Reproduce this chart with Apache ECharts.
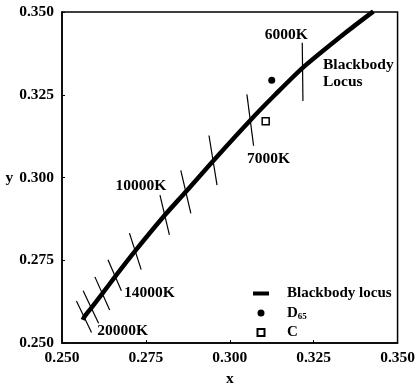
<!DOCTYPE html>
<html><head><meta charset="utf-8">
<script src="https://cdn.jsdelivr.net/npm/echarts@6/dist/echarts.min.js"></script>
<style>html,body{margin:0;padding:0;background:#fff}#c{width:418px;height:392px}</style>
</head><body><div id="c"></div>
<script>
// ---- data ----
const xTicks = [0.250, 0.275, 0.300, 0.325, 0.350];
const yTicks = [0.250, 0.275, 0.300, 0.325, 0.350];

const locusX = [0.2562, 0.2567, 0.2587, 0.2619, 0.2660, 0.2717, 0.2806, 0.2869, 0.2951, 0.3062, 0.3135, 0.3218, 0.3352, 0.3428];
const locusY = [0.2570, 0.2580, 0.2606, 0.2648, 0.2703, 0.2777, 0.2886, 0.2957, 0.3051, 0.3174, 0.3250, 0.3332, 0.3443, 0.3502];

const isoNames = ['20000K', '18000K', '16000K', '14000K', '12000K', '10000K', '9000K', '8000K', '7000K', '6000K'];
const isoX1 = [0.2543, 0.2563, 0.2598, 0.2637, 0.2701, 0.2792, 0.2854, 0.2938, 0.3051, 0.3216];
const isoY1 = [0.2627, 0.2658, 0.2700, 0.2752, 0.2832, 0.2947, 0.3022, 0.3127, 0.3251, 0.3407];
const isoX2 = [0.2588, 0.2609, 0.2642, 0.2677, 0.2736, 0.2820, 0.2884, 0.2962, 0.3071, 0.3218];
const isoY2 = [0.2532, 0.2560, 0.2600, 0.2658, 0.2722, 0.2827, 0.2892, 0.2977, 0.3096, 0.3231];

const d65X = [0.3125], d65Y = [0.3294];
const cX = [0.3107], cY = [0.3170];

const tempLabels = ['6000K', '7000K', '10000K', '14000K', '20000K'];
const tempLabelX = [0.3216, 0.3071, 0.2792, 0.2677, 0.2588];
const tempLabelY = [0.3407, 0.3096, 0.2947, 0.2658, 0.2532];

const legendNames = ['Blackbody locus', 'D65', 'C'];

// ---- chart ----
const FONT = '"Liberation Serif", "Times New Roman", serif';
const labelOffsets = [[-16, -8], [15, 13], [-19, -9], [28, 2], [31, -2]];

const series = [];
series.push({
  name: legendNames[0], type: 'line', symbol: 'none', silent: true, smooth: 0.25,
  data: locusX.map((x, i) => [x, locusY[i]]),
  itemStyle: { color: '#000' },
  lineStyle: { color: '#000', width: 4.5 }, z: 3
});
isoNames.forEach((n, i) => {
  series.push({
    name: n, type: 'line', symbol: 'none', silent: true,
    data: [[isoX1[i], isoY1[i]], [isoX2[i], isoY2[i]]],
    lineStyle: { color: '#000', width: 1.2 }, z: 2
  });
});
series.push({
  name: legendNames[1], type: 'scatter', symbol: 'circle', symbolSize: 7,
  data: d65X.map((x, i) => [x, d65Y[i]]),
  itemStyle: { color: '#000', opacity: 1 }, z: 4
});
series.push({
  name: legendNames[2], type: 'scatter', symbol: 'rect', symbolSize: 7,
  data: cX.map((x, i) => [x, cY[i]]),
  itemStyle: { color: '#fff', borderColor: '#000', borderWidth: 1.5, opacity: 1 }, z: 4
});
series.push({
  name: 'tempLabels', type: 'scatter', symbolSize: 0, silent: true,
  itemStyle: { color: '#000', opacity: 1 },
  data: tempLabels.map((t, i) => ({
    value: [tempLabelX[i], tempLabelY[i]],
    label: { show: true, formatter: t, position: 'inside', offset: labelOffsets[i],
      fontFamily: FONT, fontWeight: 'bold', fontSize: 15.5, color: '#000', textBorderWidth: 0, opacity: 1 }
  }))
});

const axisCommon = {
  type: 'value', min: 0.25, max: 0.35, interval: 0.025,
  axisLine: { show: true, lineStyle: { color: '#000', width: 1.5 } },
  axisTick: { show: true, inside: true, length: 3, lineStyle: { color: '#000' } },
  splitLine: { show: false },
  axisLabel: { color: '#000', fontFamily: FONT, fontWeight: 'bold', fontSize: 15.5,
    formatter: v => v.toFixed(3) },
  nameTextStyle: { color: '#000', fontFamily: FONT, fontWeight: 'bold', fontSize: 15.5 }
};

const option = {
  animation: false,
  backgroundColor: '#fff',
  grid: { left: 62, right: 18, top: 12, bottom: 46, show: true, borderColor: '#000', borderWidth: 1.5 },
  xAxis: Object.assign({}, axisCommon, { name: 'x', nameLocation: 'middle', nameGap: 23,
    axisLabel: Object.assign({}, axisCommon.axisLabel, { margin: 7 }) }),
  yAxis: Object.assign({}, axisCommon, { name: 'y', nameLocation: 'middle', nameGap: 45, nameRotate: 0,
    nameTextStyle: Object.assign({}, axisCommon.nameTextStyle, { padding: [0, 0, 16, 0] }),
    axisLabel: Object.assign({}, axisCommon.axisLabel, { margin: 8 }) }),
  legend: {
    data: [
      { name: legendNames[0], icon: 'path://M0,0H16V4H0Z' },
      { name: legendNames[1], icon: 'circle' },
      { name: legendNames[2], icon: 'path://M0,0H1V1H0Z' }
    ],
    orient: 'vertical', left: 248, top: 280, itemWidth: 16, itemHeight: 7, itemGap: 2.5,
    textStyle: { color: '#000', fontFamily: FONT, fontWeight: 'bold', fontSize: 15, lineHeight: 17,
      padding: [0, 0, 0, 13],
      rich: {
        b: { fontFamily: FONT, fontWeight: 'bold', fontSize: 15, lineHeight: 17, color: '#000' },
        s: { fontFamily: FONT, fontWeight: 'bold', fontSize: 9, lineHeight: 17, verticalAlign: 'bottom', padding: [8, 0, 0, 0], color: '#000' }
      }
    },
    formatter: n => n === 'D65' ? '{b|D}{s|65}' : n
  },
  graphic: [{
    type: 'text', left: 323, top: 57,
    style: { text: 'Blackbody\nLocus', fontFamily: FONT, fontWeight: 'bold', fontSize: 15.5, lineHeight: 16.5, fill: '#000' }
  }],
  series: series
};
const chart = echarts.init(document.getElementById('c'), null, { renderer: 'canvas' });
chart.setOption(option);
</script></body></html>
